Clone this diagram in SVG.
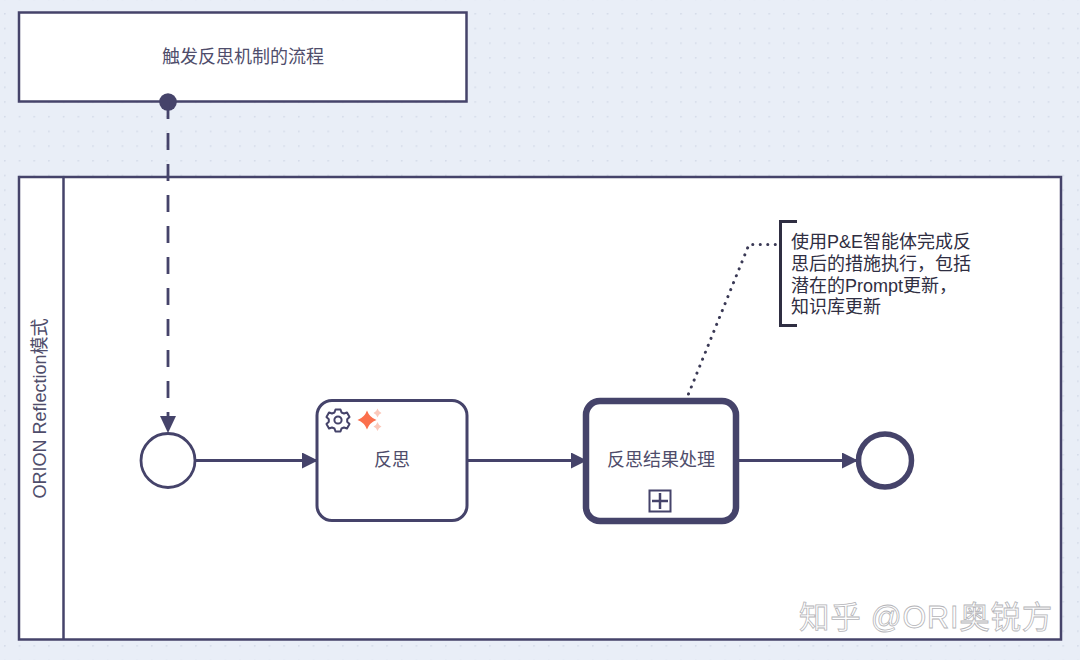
<svg xmlns="http://www.w3.org/2000/svg" width="1080" height="660" viewBox="0 0 1080 660">
<style>
text{font-family:"Liberation Sans","Noto Sans CJK SC",sans-serif;fill:#4f4d6b;font-size:18px;text-anchor:middle}
.note{text-anchor:start;fill:#2f2e42;font-size:18px}
.box{fill:#fff;stroke:#45436a;stroke-width:2.5}
.flow{fill:none;stroke:#45436a;stroke-width:3;marker-end:url(#arr)}
.dark{fill:none;stroke:#45436a}
</style>
<defs>
<pattern id="dots" x="4" y="13" width="14.7" height="14.7" patternUnits="userSpaceOnUse"><circle cx="0.8" cy="0.8" r="0.9" fill="#d3dae8"/></pattern>
<marker id="arr" markerUnits="userSpaceOnUse" markerWidth="16" markerHeight="16" refX="15" refY="8" orient="auto"><path d="M0 0L16 8L0 16Z" fill="#45436a"/></marker>
</defs>
<rect width="1080" height="660" fill="#e9eef7"/>
<rect width="1080" height="660" fill="url(#dots)"/>
<g id="pool-trigger"><rect class="box" x="19" y="12.500" width="447.500" height="89"/><text x="243" y="63">触发反思机制的流程</text></g>
<g id="pool-orion"><rect class="box" x="19" y="177" width="1042" height="462.500"/><line class="dark" stroke-width="2.500" x1="63.500" y1="177" x2="63.500" y2="639.500"/><text transform="translate(46 408.500) rotate(-90)">ORION Reflection模式</text></g>
<g id="start"><circle cx="168" cy="460.500" r="27" fill="#fff" stroke="#45436a" stroke-width="2.800"/></g>
<g id="task-reflect"><rect x="317" y="400.500" width="150" height="120" rx="15" fill="#fff" stroke="#45436a" stroke-width="3"/><text x="392" y="466">反思</text>
<g fill="none" stroke="#45436a" stroke-width="2"><circle cx="338" cy="420" r="3.600"/><path d="M335.500 409.500h5l1 3 2.500 1 3-1 2.500 4.500-2.300 2.200v2.600l2.300 2.200-2.500 4.500-3-1-2.500 1-1 3h-5l-1-3-2.500-1-3 1-2.500-4.500 2.300-2.200v-2.600l-2.300-2.200 2.500-4.500 3 1 2.500-1z" stroke-linejoin="round"/></g>
<path d="M367 410.500q2.500 7 9.500 9.500q-7 2.500-9.500 9.500q-2.500-7-9.500-9.500q7-2.500 9.500-9.500z" fill="#fb6f4c"/>
<path d="M377.500 408.500q1 3.500 4 4.500q-3 1-4 4.500q-1-3.500-4-4.500q3-1 4-4.500zM377.500 422q1 3.500 4 4.500q-3 1-4 4.500q-1-3.500-4-4.500q3-1 4-4.500z" fill="#fbc9bb"/></g>
<g id="task-process"><rect x="586" y="401" width="150" height="120" rx="14" fill="#fff" stroke="#45436a" stroke-width="6.500"/><text x="661" y="466">反思结果处理</text>
<rect x="649.500" y="490.500" width="21" height="21" fill="none" stroke="#45436a" stroke-width="2"/><path d="M660 493v16M652 501h16" fill="none" stroke="#45436a" stroke-width="2.500"/></g>
<g id="end"><circle cx="885" cy="460.500" r="26.500" fill="#fff" stroke="#45436a" stroke-width="5.500"/></g>
<g id="annotation"><path fill="none" stroke="#2f2e42" stroke-width="3" d="M797 221.500H780.500V325.500H797"/>
<text class="note" x="791" y="248">使用P&amp;E智能体完成反</text>
<text class="note" x="791" y="270">思后的措施执行，包括</text>
<text class="note" x="791" y="292">潜在的Prompt更新，</text>
<text class="note" x="791" y="313">知识库更新</text></g>
<g id="connectors">
<circle cx="168" cy="102" r="8.800" fill="#45436a"/>
<line class="dark" stroke-width="2.800" stroke-dasharray="17 14" x1="168" y1="102" x2="168" y2="418"/>
<path d="M160 416H176L168 433Z" fill="#45436a"/>
<path class="flow" d="M195 460.500H317"/>
<path class="flow" d="M467 460.500H586"/>
<path class="flow" d="M736 460.500H857"/>
<path fill="none" stroke="#3a3955" stroke-width="3" stroke-linecap="round" stroke-dasharray="0.100 7.400" d="M688.500 394L749 244.500H780"/>
</g>
<g id="watermark"><text x="926" y="628" style="font-size:30.500px;fill:#fff;stroke:#b4b4b8;stroke-width:.8;letter-spacing:.8px">知乎 @ORI奥锐方</text></g>
</svg>
